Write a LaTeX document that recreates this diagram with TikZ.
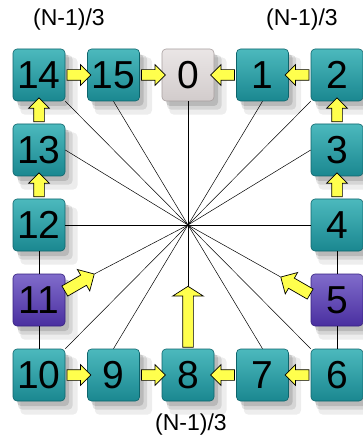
\documentclass[tikz,border=0pt]{standalone}
\usepackage{fontspec}
\setmainfont{Liberation Sans}
\usetikzlibrary{shapes.arrows,shadows}

\definecolor{tealtop}{HTML}{4CB9BD}
\definecolor{tealbot}{HTML}{1A8790}
\definecolor{tealrim}{HTML}{0E646B}
\definecolor{purtop}{HTML}{806CCB}
\definecolor{purbot}{HTML}{4A2FA0}
\definecolor{purrim}{HTML}{35207F}
\definecolor{graytop}{HTML}{EAE6E6}
\definecolor{graybot}{HTML}{D2CCCC}
\definecolor{grayrim}{HTML}{A89F9F}
\definecolor{arryel}{HTML}{FFFF4D}

\begin{document}
\begin{tikzpicture}[
  x=1pt, y=-1pt,
  box/.style={draw=tealrim, line width=0.6pt, rounded corners=4pt,
              minimum width=52pt, minimum height=52pt, inner sep=0pt,
              top color=tealtop, bottom color=tealbot,
              font=\fontsize{39}{39}\selectfont,
              general shadow={shadow xshift=9pt, shadow yshift=-10pt,
                              shadow scale=1.1, fill=black, opacity=0.07},
              general shadow={shadow xshift=6pt, shadow yshift=-7pt,
                              shadow scale=1.05, fill=black, opacity=0.10},
              general shadow={shadow xshift=4pt, shadow yshift=-5pt,
                              fill=black, opacity=0.13}},
  pbox/.style={box, draw=purrim, top color=purtop, bottom color=purbot},
  gbox/.style={box, draw=grayrim, top color=graytop, bottom color=graybot},
  yarr/.style={single arrow, draw=black, fill=arryel, line width=0.7pt,
               minimum height=24pt, minimum width=0pt,
               inner xsep=0pt, inner ysep=5pt,
               single arrow head extend=5pt, single arrow head indent=0pt},
  bigarr/.style={yarr, single arrow head extend=10pt,
                 single arrow tip angle=115},
  diagarr/.style={yarr, minimum height=34pt, inner ysep=5.5pt,
                  single arrow head extend=6.5pt},
  spoke/.style={draw=black, line width=0.5pt},
  lab/.style={font=\fontsize{23}{23}\selectfont},
]
  \useasboundingbox (0,0) rectangle (362,443);

  % Top row
  \node[box]  (b14) at (39,75)    {14};
  \node[box]  (b15) at (113.5,75) {15};
  \node[gbox] (b0)  at (188,75)   {0};
  \node[box]  (b1)  at (262.5,75) {1};
  \node[box]  (b2)  at (337,75)   {2};

  % Left column
  \node[box]  (b13) at (39,150) {13};
  \node[box]  (b12) at (39,225) {12};
  \node[pbox] (b11) at (39,300) {11};

  % Right column
  \node[box]  (b3) at (337,150) {3};
  \node[box]  (b4) at (337,225) {4};
  \node[pbox] (b5) at (337,300) {5};

  % Bottom row
  \node[box] (b10) at (39,375)    {10};
  \node[box] (b9)  at (113.5,375) {9};
  \node[box] (b8)  at (188,375)   {8};
  \node[box] (b7)  at (262.5,375) {7};
  \node[box] (b6)  at (337,375)   {6};

  % Yellow arrows along the ring
  \node[yarr] (a14) at (76.25,75)  {};
  \node[yarr] (a15) at (150.75,75) {};
  \node[yarr, rotate=180] (a1) at (225.25,75) {};
  \node[yarr, rotate=180] (a2) at (299.75,75) {};
  \node[yarr, rotate=90] (a13) at (39,112.5)  {};
  \node[yarr, rotate=90] (a12) at (39,187.5)  {};
  \node[yarr, rotate=90] (a3)  at (337,112.5) {};
  \node[yarr, rotate=90] (a4)  at (337,187.5) {};
  \node[yarr] (a10) at (76.25,375)  {};
  \node[yarr] (a9)  at (150.75,375) {};
  \node[yarr, rotate=180] (a7) at (225.25,375) {};
  \node[yarr, rotate=180] (a6) at (299.75,375) {};

  % Arrows towards the centre
  \node[bigarr, rotate=90, minimum height=61pt] (a8) at (188,318.5) {};
  \node[diagarr, rotate=30]  (a11) at (77,284)  {};
  \node[diagarr, rotate=150] (a5)  at (298,287) {};

  % Spokes
  \coordinate (c) at (188,225);
  \draw[spoke] (c) -- (b14.south east);
  \draw[spoke] (c) -- (b15.south);
  \draw[spoke] (c) -- (b0.south);
  \draw[spoke] (c) -- (b1.south);
  \draw[spoke] (c) -- (b2.south west);
  \draw[spoke] (c) -- (b13.east);
  \draw[spoke] (c) -- (b12.east);
  \draw[spoke] (c) -- (a11.tip);
  \draw[spoke] (c) -- (b10.north east);
  \draw[spoke] (c) -- (b9.north);
  \draw[spoke] (c) -- (a8.tip);
  \draw[spoke] (c) -- (b7.north);
  \draw[spoke] (c) -- (b6.north west);
  \draw[spoke] (c) -- (a5.tip);
  \draw[spoke] (c) -- (b4.west);
  \draw[spoke] (c) -- (b3.west);

  % Short links to the purple boxes
  \draw[spoke] (b12.south) -- (b11.north);
  \draw[spoke] (b11.south) -- (b10.north);
  \draw[spoke] (b4.south) -- (b5.north);
  \draw[spoke] (b5.south) -- (b6.north);

  % Labels
  \node[lab] (ltl) at (69,20)   {(N-1)/3};
  \node[lab] (ltr) at (302,20)  {(N-1)/3};
  \node[lab] (lbo) at (191,425) {(N-1)/3};
\end{tikzpicture}
\end{document}
